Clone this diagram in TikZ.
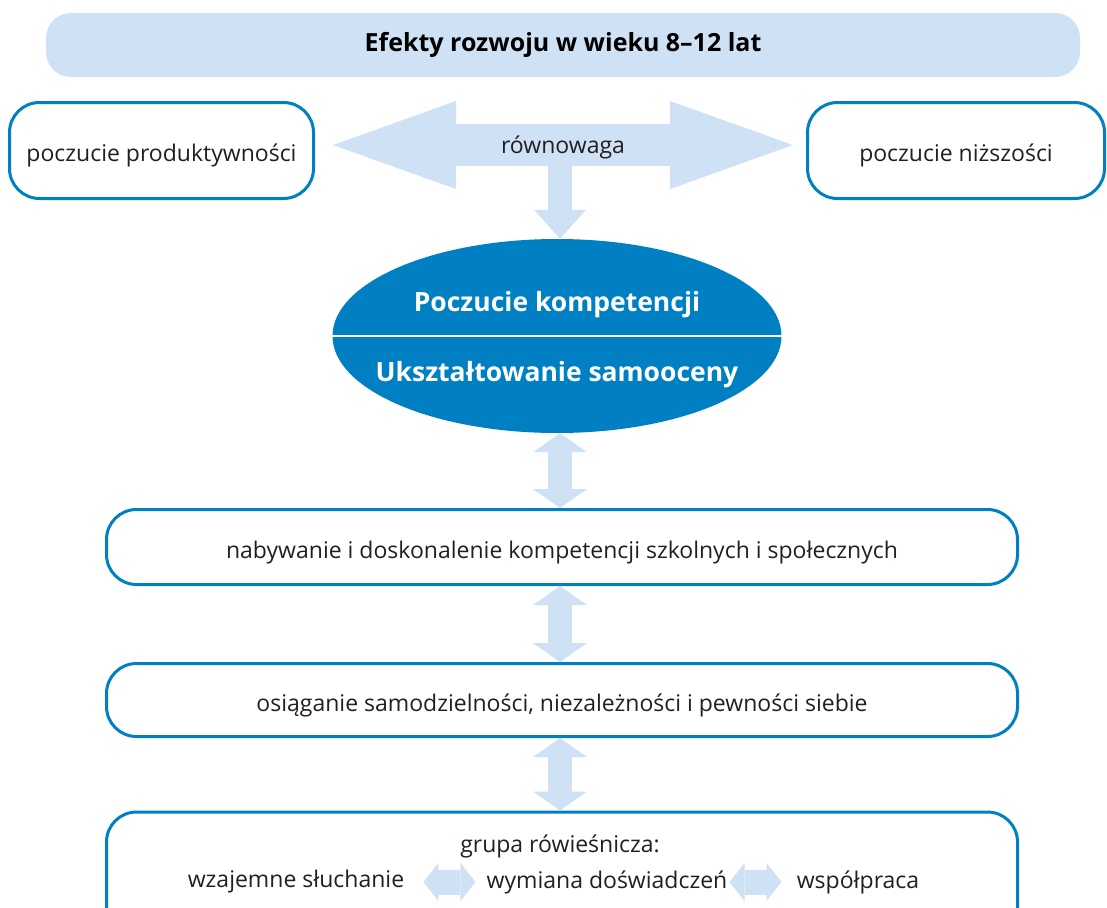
\documentclass[tikz,border=0pt]{standalone}
\usepackage{fontspec}
\setmainfont{Open Sans}
\usetikzlibrary{shapes}
\usetikzlibrary{positioning}
\usetikzlibrary{arrows.meta}
\definecolor{lblue}{RGB}{207,225,244}
\definecolor{dblue}{RGB}{0,128,195}
\definecolor{txt}{RGB}{35,31,32}
\tikzset{
    myband/.style = {rounded corners=25pt, fill=lblue, minimum width=1034pt, minimum height=64pt, font=\fontsize{25}{30}\selectfont\bfseries, text=black},
    mybox/.style = {rounded corners=30pt, draw=dblue, line width=3pt, align=center, text height=22pt, text depth=0pt, font=\fontsize{23}{28}\selectfont, text=txt},
    myell/.style = {ellipse, fill=dblue, inner sep=0pt, minimum width=449pt, minimum height=194pt},
    mytitle/.style = {font=\fontsize{26.5}{32}\selectfont\bfseries, text=white},
    mytext/.style = {inner sep=0pt, font=\fontsize{23}{28}\selectfont, text=txt},
    edgev/.style = {lblue, line width=24pt, {Triangle[length=19pt 0 0,width=54pt 0 0,line width=0pt 0 0]}-{Triangle[length=19pt 0 0,width=54pt 0 0,line width=0pt 0 0]}}, % between levels
    edgeh/.style = {lblue, line width=25pt, {Triangle[length=15pt 0 0,width=38pt 0 0,line width=0pt 0 0]}-{Triangle[length=15pt 0 0,width=38pt 0 0,line width=0pt 0 0]}}, % peer group
    edged/.style = {lblue, line width=24pt, -{Triangle[length=29pt 0 0,width=52pt 0 0,line width=0pt 0 0]}},
    edgew/.style = {lblue, line width=42pt, {Triangle[length=123pt 0 0,width=88pt 0 0,line width=0pt 0 0]}-{Triangle[length=123pt 0 0,width=88pt 0 0,line width=0pt 0 0]}}, % balance
}

\begin{document}
\begin{tikzpicture}[x=1pt,y=-1pt]
\useasboundingbox (0,0) rectangle (1107,907);
\clip (0,0) rectangle (1107,907);
\node[myband] at (563,45) (title) {Efekty rozwoju w wieku 8–12 lat};
\node[mybox, minimum width=304pt, minimum height=96pt] at (161.5,150.5) (prod) {poczucie produktywności};
\node[mybox, minimum width=297pt, minimum height=96pt] at (956,150.5) (nizsz) {poczucie niższości};
%
\node[myell] at (557,336) (ell) {};
\draw[white, line width=2pt] (ell.west) -- (ell.east);
\node[mytitle] at (557,305) (komp) {Poczucie kompetencji};
\node[mytitle] at (557,375) (samo) {Ukształtowanie samooceny};
%
\node[mybox, minimum width=911pt, minimum height=75pt] at (562,547) (nab) {nabywanie i doskonalenie kompetencji szkolnych i społecznych};
\node[mybox, minimum width=911pt, minimum height=73pt] at (562,700) (osi) {osiąganie samodzielności, niezależności i pewności siebie};
\node[mybox, minimum width=911pt, minimum height=140pt] at (562,882) (grupa) {};
\node[mytext] at (560,846) (rowie) {grupa rówieśnicza:};
\node[mytext] at (296,882) (sluch) {wzajemne słuchanie};
\node[mytext] at (607,882) (wymiana) {wymiana doświadczeń};
\node[mytext] at (858,882) (wspol) {współpraca};
%
\coordinate (split) at (560,150);
\draw[edged] (split) -- (split |- ell.north);
\draw[edgew] ([xshift=18pt,yshift=5.5pt]prod.east) -- ([xshift=-13pt,yshift=5.5pt]nizsz.west)
    node[midway, yshift=-2pt, mytext, text=txt] (rown) {równowaga};
\draw[edgev] (split |- ell.south) -- (split |- nab.north);
\draw[edgev] (split |- nab.south) -- (split |- osi.north);
\draw[edgev] (split |- osi.south) -- (split |- grupa.north);
\draw[edgeh, shorten <=19pt, shorten >=11pt] (sluch.east) -- (wymiana.west);
\draw[edgeh, shorten <=2pt, shorten >=15pt] (wymiana.east) -- (wspol.west);
\end{tikzpicture}
\end{document}
